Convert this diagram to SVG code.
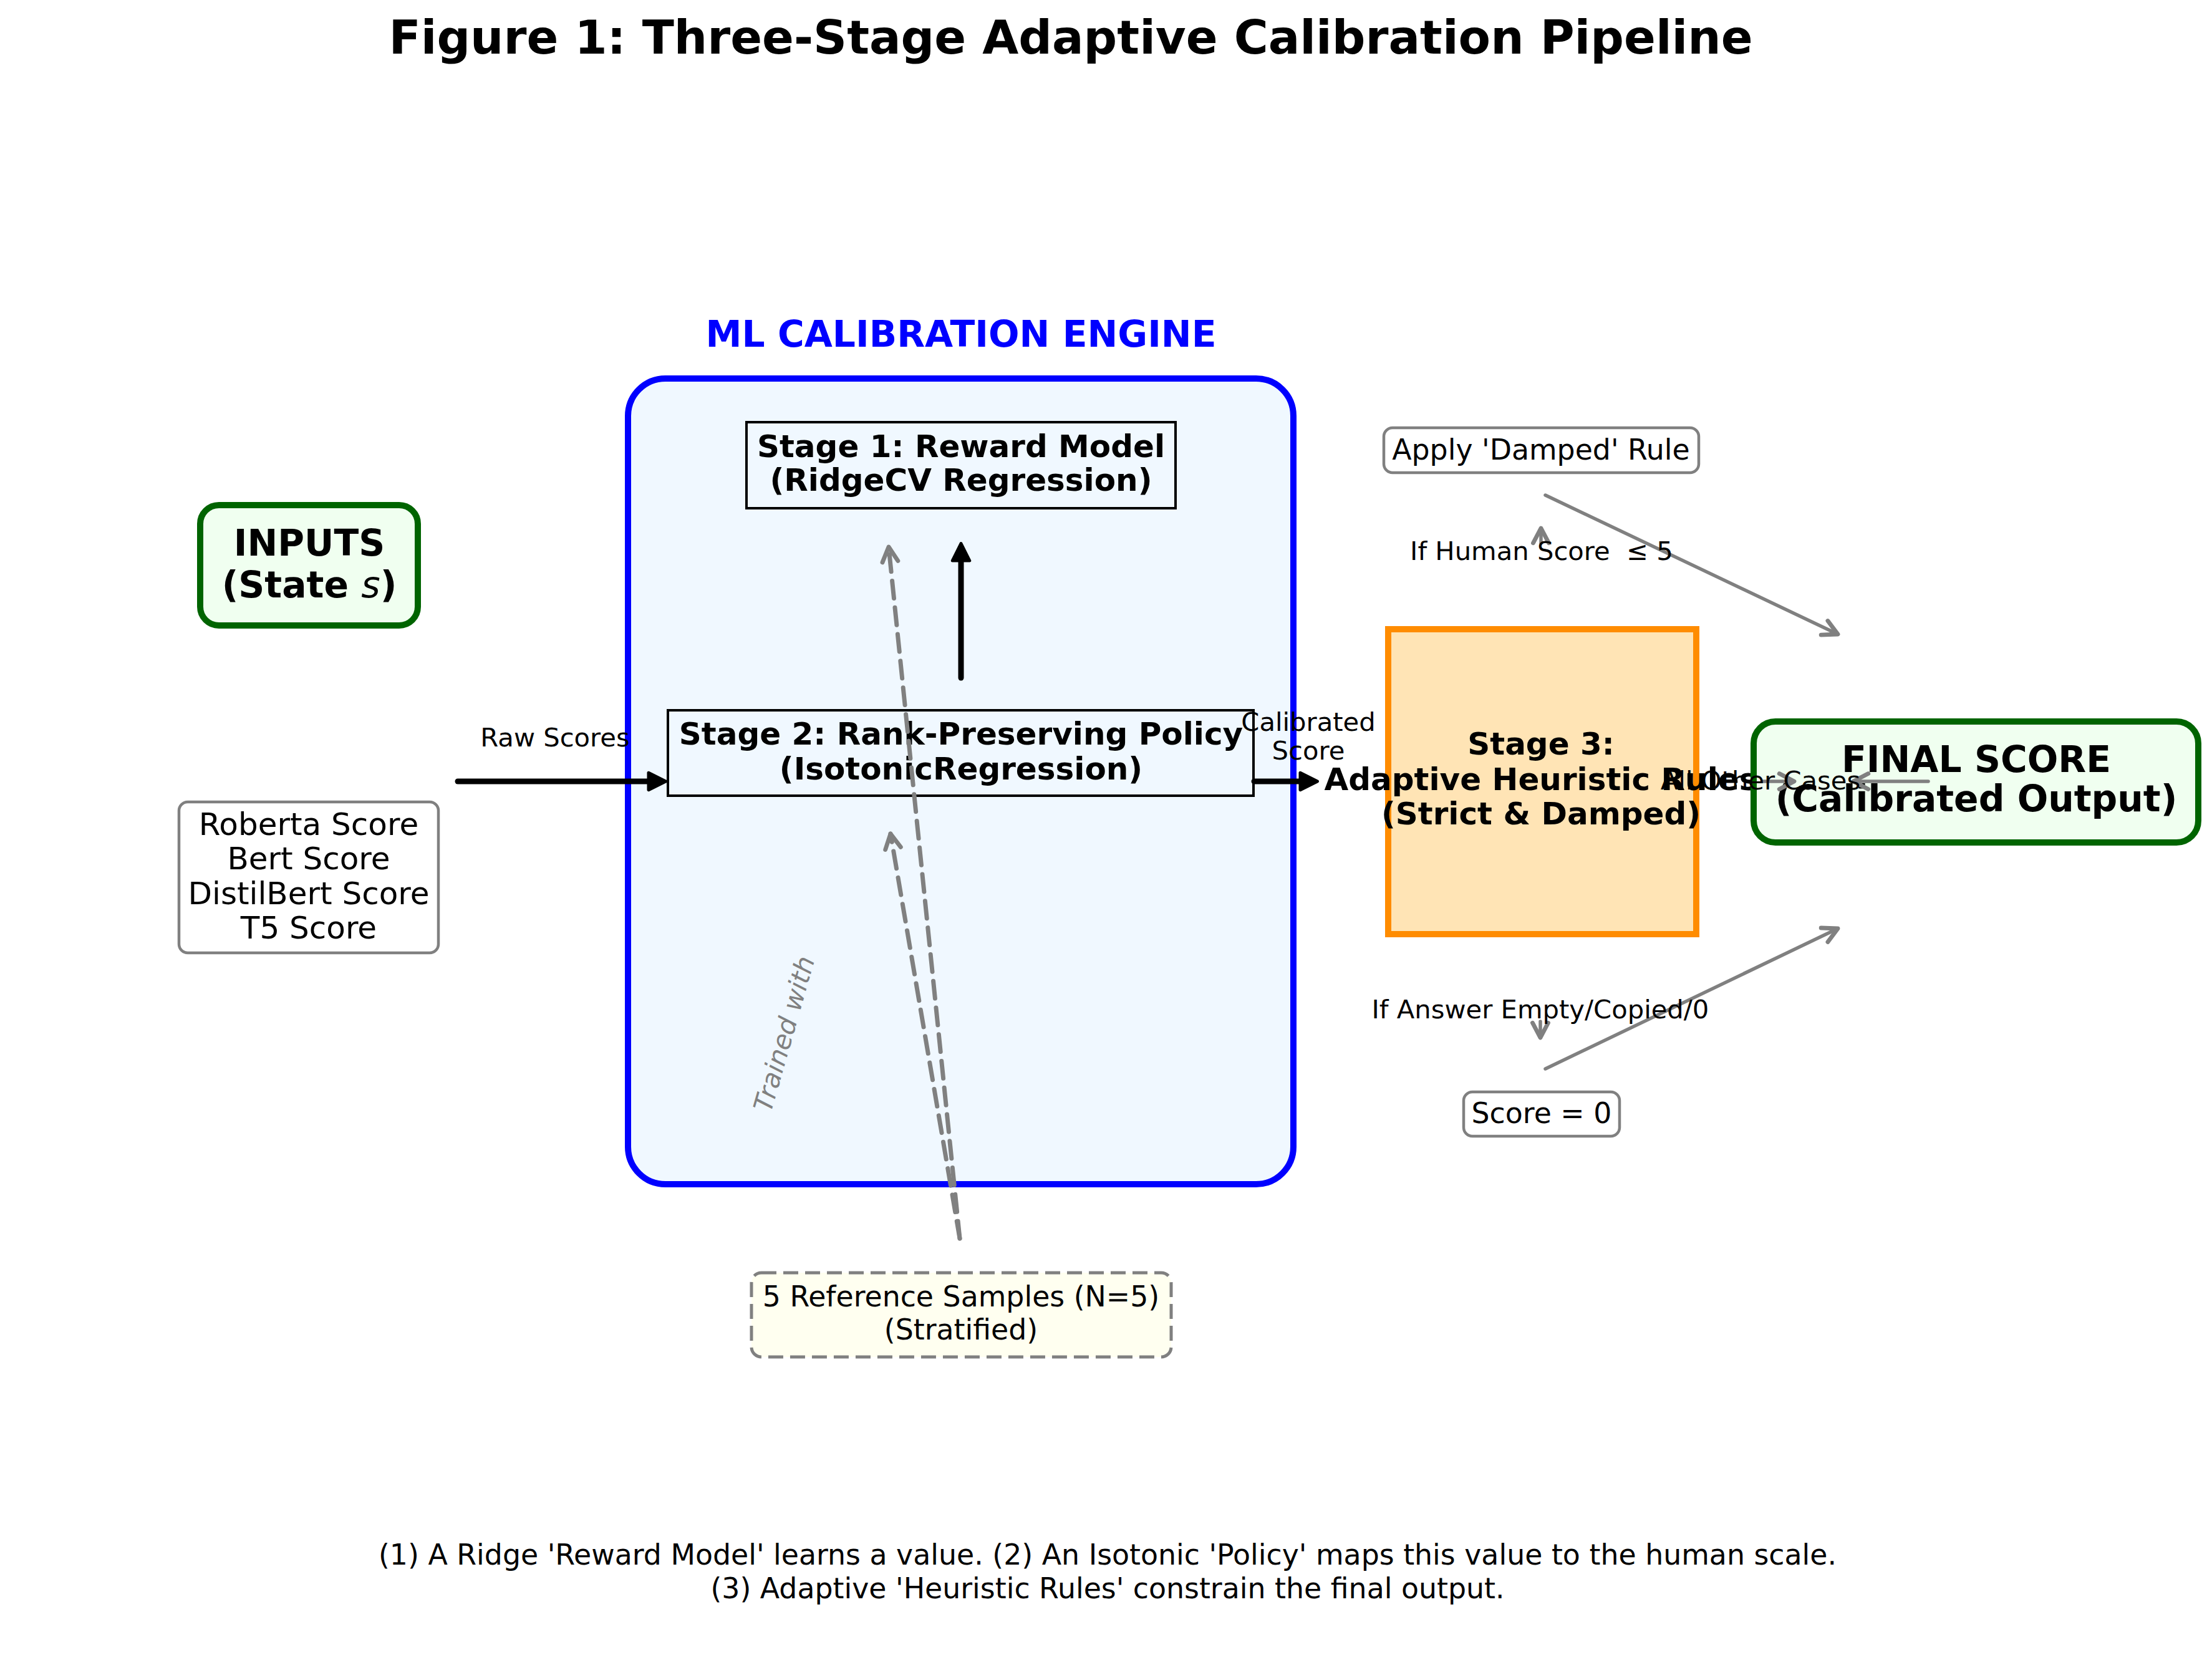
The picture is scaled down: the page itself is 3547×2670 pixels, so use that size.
<svg xmlns="http://www.w3.org/2000/svg" width="3547" height="2670" viewBox="0 0 3547 2670">
<style>
text{font-family:"DejaVu Sans","Liberation Sans",sans-serif;fill:#000;text-anchor:middle}
.b{font-weight:bold}
.t50{font-size:50px}
.t58{font-size:58.3px}
.t46{font-size:45.8px}
.t42{font-size:41.7px}
.blk{stroke:#000;stroke-width:9;fill:none;stroke-linecap:round}
.gry{stroke:#808080;stroke-width:5.5;fill:none;stroke-linecap:round}
.dsh{stroke:#808080;stroke-width:7;fill:none;stroke-linecap:round;stroke-dasharray:28,15}
.sbox{fill:#F0F8FF;stroke:#000;stroke-width:4}
.gbox{fill:#fff;stroke:#808080;stroke-width:4.5}
.green{fill:#F0FFF0;stroke:#006400;stroke-width:10}
</style>
<defs>
<marker id="hb" markerUnits="userSpaceOnUse" orient="auto" markerWidth="40" markerHeight="40" viewBox="-4 -16 32 32" refX="0" refY="0">
<path d="M0,-11 L22,0 L0,11 Z" fill="#000" stroke="#000" stroke-width="4" stroke-linejoin="round"/>
</marker>
<marker id="hg" markerUnits="userSpaceOnUse" orient="auto" markerWidth="40" markerHeight="40" viewBox="-26 -16 32 32" refX="0" refY="0">
<path d="M-19,-10 L0,0 L-19,10" fill="none" stroke="#808080" stroke-width="5.5" stroke-linecap="round" stroke-linejoin="round" stroke-dasharray="none"/>
</marker>
</defs>
<rect width="3547" height="2670" fill="#fff"/>

<text id="title" class="b" x="1717" y="86" font-size="75">Figure 1: Three-Stage Adaptive Calibration Pipeline</text>

<g id="ml-engine">
<rect x="1007" y="607" width="1067" height="1292" rx="60" ry="60" fill="#F0F8FF" stroke="#0000FF" stroke-width="10"/>
<text class="b t58" x="1541" y="556" style="fill:#0000FF">ML CALIBRATION ENGINE</text>
</g>

<g id="stage1">
<rect class="sbox" x="1197" y="677" width="688" height="138"/>
<text class="b t50" x="1541" y="733">Stage 1: Reward Model</text>
<text class="b t50" x="1541" y="787">(RidgeCV Regression)</text>
</g>

<g id="stage2">
<rect class="sbox" x="1071" y="1139" width="939" height="137"/>
<text class="b t50" x="1541" y="1194">Stage 2: Rank-Preserving Policy</text>
<text class="b t50" x="1541" y="1250">(IsotonicRegression)</text>
</g>

<g id="inputs">
<rect class="green" x="321" y="810" width="349" height="193" rx="30" ry="30"/>
<text class="b t58" x="496" y="891">INPUTS</text>
<text class="b t58" x="496" y="958">(State <tspan font-weight="normal" font-style="italic">s</tspan>)</text>
</g>

<g id="scores">
<rect class="gbox" x="287" y="1286" width="416" height="242" rx="14" ry="14"/>
<text class="t50" x="495" y="1339">Roberta Score</text>
<text class="t50" x="495" y="1394">Bert Score</text>
<text class="t50" x="495" y="1450">DistilBert Score</text>
<text class="t50" x="495" y="1505">T5 Score</text>
</g>

<g id="stage3">
<rect x="2226" y="1009" width="494" height="489" fill="#FFE4B5" stroke="#FF8C00" stroke-width="10"/>
<text class="b t50" x="2471" y="1210">Stage 3:</text>
<text class="b t50" x="2471" y="1267">Adaptive Heuristic Rules</text>
<text class="b t50" x="2471" y="1322">(Strict &amp; Damped)</text>
</g>

<g id="damped">
<rect class="gbox" x="2219" y="686" width="505" height="72" rx="14" ry="14"/>
<text class="t46" x="2471" y="737">Apply 'Damped' Rule</text>
</g>

<g id="zero">
<rect class="gbox" x="2347" y="1751" width="250" height="71" rx="14" ry="14"/>
<text class="t46" x="2472" y="1801">Score = 0</text>
</g>

<g id="final">
<rect class="green" x="2812" y="1157" width="713" height="194" rx="35" ry="35"/>
<text class="b t58" x="3169" y="1238">FINAL SCORE</text>
<text class="b t58" x="3169" y="1301">(Calibrated Output)</text>
</g>

<g id="refs">
<rect x="1205" y="2041" width="673" height="135" rx="16" ry="16" fill="#FFFFF0" stroke="#808080" stroke-width="5" stroke-dasharray="24,11"/>
<text class="t46" x="1541" y="2095">5 Reference Samples (N=5)</text>
<text class="t46" x="1541" y="2148">(Stratified)</text>
</g>

<g id="connectors">
<line class="blk" x1="734" y1="1253" x2="1040" y2="1253" marker-end="url(#hb)"/>
<line class="blk" x1="1541" y1="1087" x2="1541" y2="899" marker-end="url(#hb)"/>
<line class="blk" x1="2011" y1="1253" x2="2085" y2="1253" marker-end="url(#hb)"/>
<line class="dsh" x1="1539" y1="1986" x2="1425" y2="877" marker-end="url(#hg)"/>
<line class="dsh" x1="1539" y1="1986" x2="1428" y2="1337" marker-end="url(#hg)"/>
<line class="gry" x1="2478" y1="794" x2="2947" y2="1017" marker-end="url(#hg)"/>
<line class="gry" x1="2478" y1="1714" x2="2947" y2="1489" marker-end="url(#hg)"/>
<line class="gry" x1="2471" y1="871" x2="2471" y2="847" marker-end="url(#hg)"/>
<line class="gry" x1="2470" y1="1638" x2="2470" y2="1664" marker-end="url(#hg)"/>
<line class="gry" x1="2827" y1="1253" x2="2877" y2="1253" marker-end="url(#hg)"/>
<line class="gry" x1="3092" y1="1253" x2="2972" y2="1253" marker-end="url(#hg)"/>
</g>

<g id="labels">
<text class="t42" x="890" y="1197">Raw Scores</text>
<text class="t42" x="2098" y="1172">Calibrated</text>
<text class="t42" x="2098" y="1218">Score</text>
<text class="t42" x="2472" y="898" xml:space="preserve">If Human Score  ≤ 5</text>
<text class="t42" x="2823" y="1266">All Other Cases</text>
<text class="t42" x="2470" y="1633">If Answer Empty/Copied/0</text>
<text class="t42" font-style="italic" style="fill:#808080" transform="translate(1258,1658) rotate(-74)" x="0" y="14">Trained with</text>
</g>

<g id="caption">
<text class="t46" x="1776" y="2509">(1) A Ridge 'Reward Model' learns a value. (2) An Isotonic 'Policy' maps this value to the human scale.</text>
<text class="t46" x="1776" y="2563">(3) Adaptive 'Heuristic Rules' constrain the final output.</text>
</g>
</svg>
